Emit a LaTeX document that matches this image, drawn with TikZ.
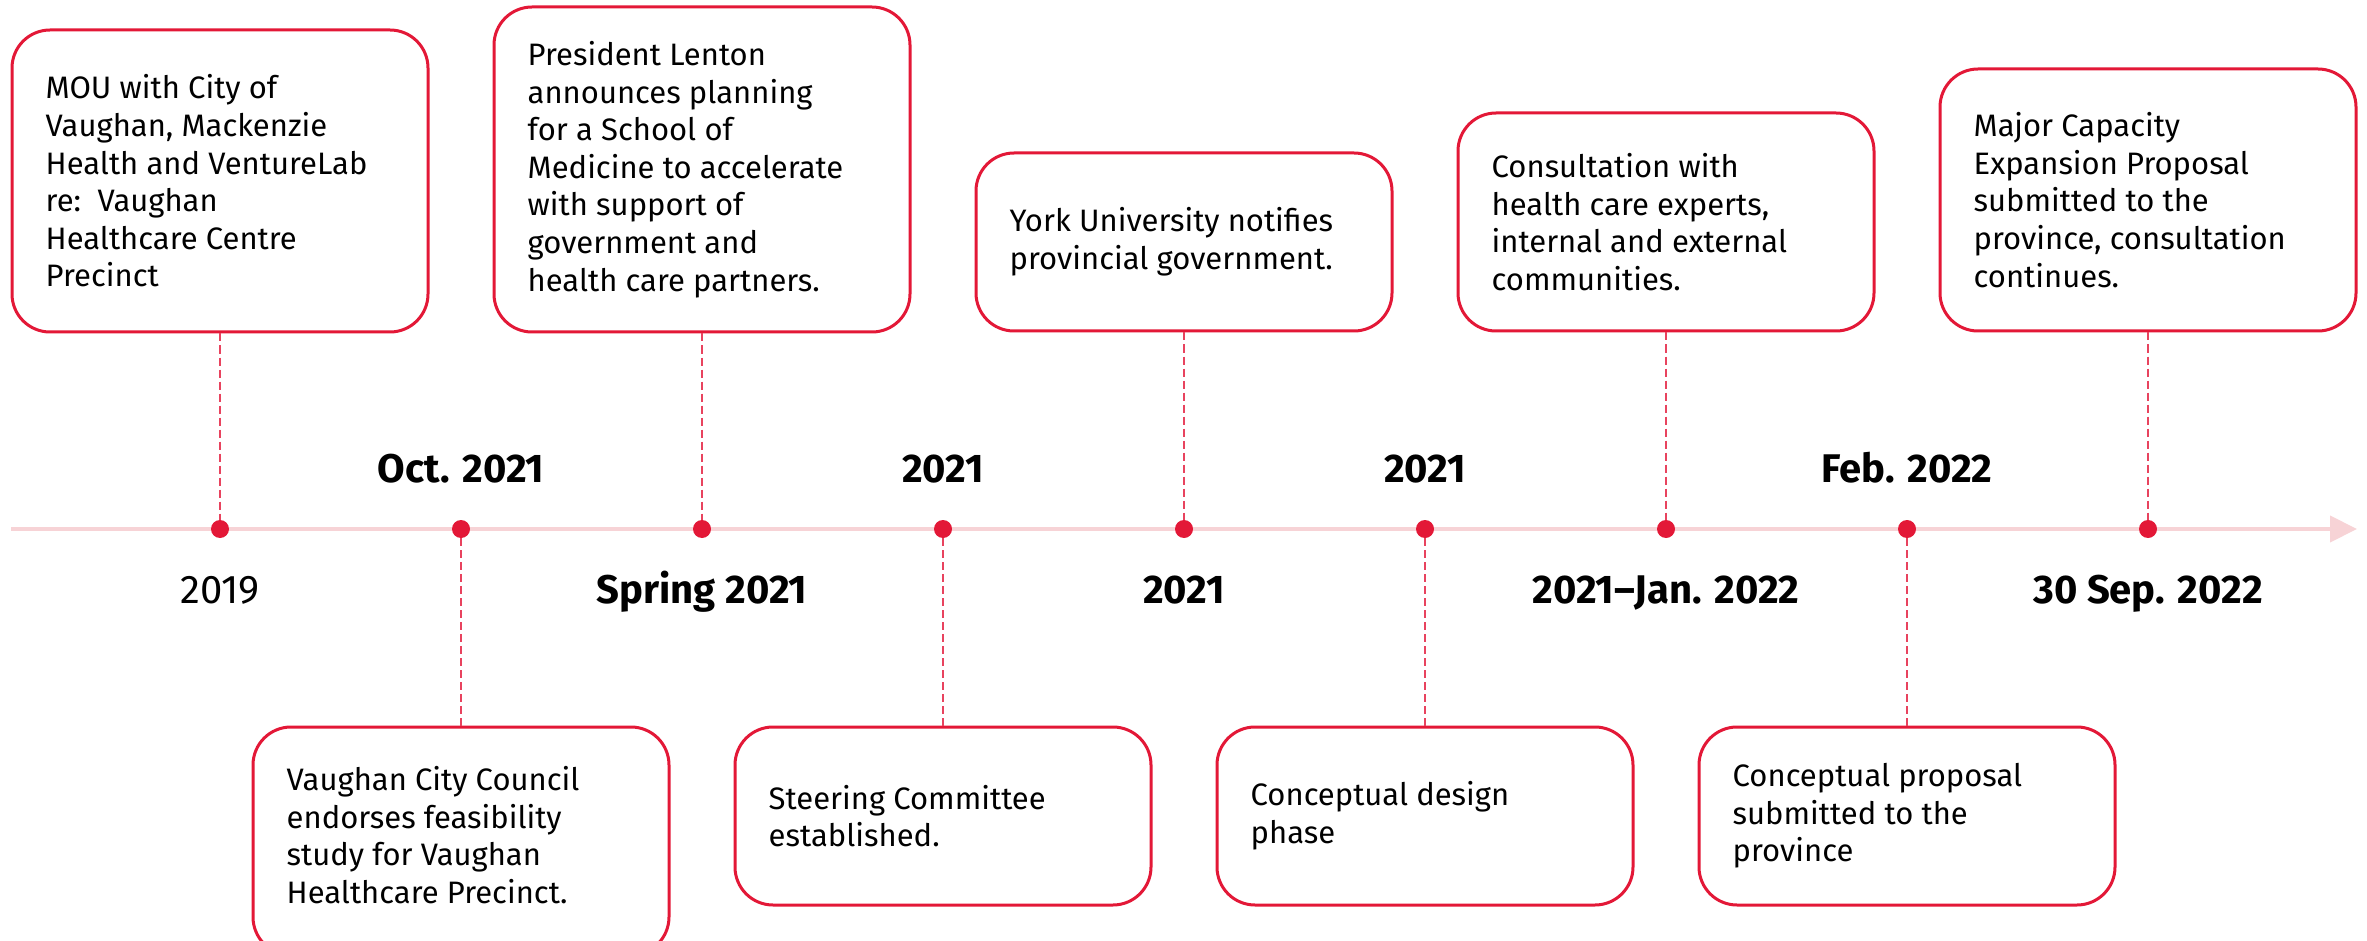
\documentclass[tikz,border=0pt]{standalone}
\usepackage{fontspec}
\setmainfont{Fira Sans}
\usetikzlibrary{arrows.meta}
\definecolor{yred}{HTML}{E31837}
\definecolor{tlpink}{HTML}{F7D3D6}
\definecolor{dashred}{HTML}{E8435E}
\begin{document}
\begin{tikzpicture}[x=1pt,y=-1pt,
  evbox/.style={draw=yred, line width=3pt, rounded corners=38pt, minimum width=416pt, inner sep=0pt, fill=white},
  evtext/.style={anchor=west, align=left, font=\fontsize{31}{37.6}\selectfont, inner sep=0pt, xshift=35pt},
  tdot/.style={circle, fill=yred, minimum size=18pt, inner sep=0pt},
  conn/.style={draw=dashred, line width=2pt, dash pattern=on 8pt off 4pt},
  datelbl/.style={anchor=base, inner sep=0pt, font=\fontsize{40}{48}\selectfont\bfseries},
  timeline/.style={draw=tlpink, line width=4pt, -{Triangle[length=27pt,width=26pt]}}
]
\useasboundingbox (0,0) rectangle (2367,941);
\clip (0,0) rectangle (2367,941);

% timeline
\coordinate (tlstart) at (11,529);
\coordinate (tlend) at (2357,529);
\draw[timeline] (tlstart) -- (tlend);

% dots
\node[tdot] (d1) at (220,529) {};
\node[tdot] (d2) at (461,529) {};
\node[tdot] (d3) at (702,529) {};
\node[tdot] (d4) at (943,529) {};
\node[tdot] (d5) at (1184,529) {};
\node[tdot] (d6) at (1425,529) {};
\node[tdot] (d7) at (1666,529) {};
\node[tdot] (d8) at (1907,529) {};
\node[tdot] (d9) at (2148,529) {};

% boxes (top)
\node[evbox, minimum height=302pt] (b1) at (220,181) {};
\node[evbox, minimum height=325pt] (b3) at (702,169.5) {};
\node[evbox, minimum height=178pt] (b5) at (1184,242) {};
\node[evbox, minimum height=218pt] (b7) at (1666,222) {};
\node[evbox, minimum height=262pt] (b9) at (2148,200) {};
% boxes (bottom)
\node[evbox, minimum height=228pt] (b2) at (461,841) {};
\node[evbox, minimum height=178pt] (b4) at (943,816) {};
\node[evbox, minimum height=178pt] (b6) at (1425,816) {};
\node[evbox, minimum height=178pt] (b8) at (1907,816) {};

% box texts
\node[evtext] (t1) at (b1.west) {MOU with City of\\Vaughan, Mackenzie\\Health and VentureLab\\re:\ \ Vaughan\\Healthcare Centre\\Precinct};
\node[evtext] (t2) at ([yshift=6pt]b2.west) {Vaughan City Council\\endorses feasibility\\study for Vaughan\\Healthcare Precinct.};
\node[evtext] (t3) at (b3.west) {President Lenton\\announces planning\\for a School of\\Medicine to accelerate\\with support of\\government and\\health care partners.};
\node[evtext] (t4) at (b4.west) {Steering Committee\\established.};
\node[evtext] (t5) at (b5.west) {York University notifies\\provincial government.};
\node[evtext] (t6) at (b6.west) {Conceptual design\\phase};
\node[evtext] (t7) at (b7.west) {Consultation with\\health care experts,\\internal and external\\communities.};
\node[evtext] (t8) at (b8.west) {Conceptual proposal\\submitted to the\\province};
\node[evtext] (t9) at (b9.west) {Major Capacity\\Expansion Proposal\\submitted to the\\province, consultation\\continues.};

% dashed connectors
\draw[conn] (b1.south) -- (d1.north);
\draw[conn] (b3.south) -- (d3.north);
\draw[conn] (b5.south) -- (d5.north);
\draw[conn] (b7.south) -- (d7.north);
\draw[conn] (b9.south) -- (d9.north);
\draw[conn] (d2.south) -- (b2.north);
\draw[conn] (d4.south) -- (b4.north);
\draw[conn] (d6.south) -- (b6.north);
\draw[conn] (d8.south) -- (b8.north);

% date labels
\node[datelbl, font=\fontsize{40}{48}\selectfont] (l1) at (220,603) {2019};
\node[datelbl] (l2) at (461,482) {Oct. 2021};
\node[datelbl] (l3) at (702,603) {Spring 2021};
\node[datelbl] (l4) at (943,482) {2021};
\node[datelbl] (l5) at (1184,603) {2021};
\node[datelbl] (l6) at (1425,482) {2021};
\node[datelbl] (l7) at (1666,603) {2021–Jan. 2022};
\node[datelbl] (l8) at (1907,482) {Feb. 2022};
\node[datelbl] (l9) at (2148,603) {30 Sep. 2022};
\end{tikzpicture}
\end{document}
